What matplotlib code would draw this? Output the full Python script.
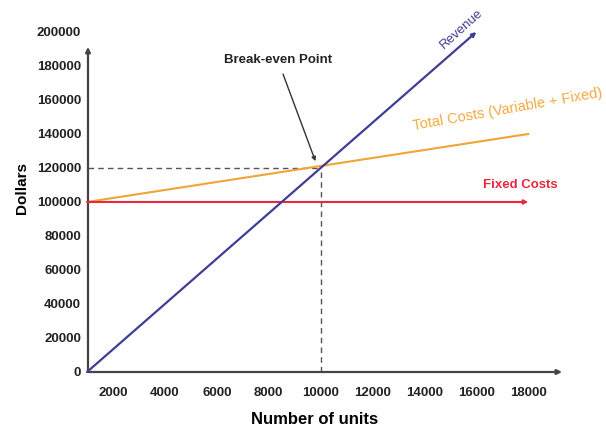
import matplotlib
import matplotlib.pyplot as plt

matplotlib.use('Agg')

plt.rcParams['font.family'] = ['Liberation Sans', 'DejaVu Sans']

# data
units_rev = [1000, 16000]
revenue = [0, 200000]
units_cost = [1000, 18000]
fixed_costs = [100000, 100000]
total_costs = [100000, 140000]
break_even_units = 10000
break_even_dollars = 120000
x_ticks = [2000, 4000, 6000, 8000, 10000, 12000, 14000, 16000, 18000]
y_ticks = list(range(0, 200001, 20000))

fig = plt.figure(figsize=(6.06, 4.30), dpi=100)
ax = fig.add_axes([0.1452, 0.1349, 0.7822, 0.7907])
ax.set_xlim(1037, 19300)
ax.set_ylim(0, 200000)

for s in ax.spines.values():
    s.set_visible(False)

# axis arrows
axis_col = '#444444'
ax.annotate('', xy=(0, 0.956), xytext=(0, 0), xycoords='axes fraction',
            arrowprops=dict(arrowstyle='-|>', color=axis_col, lw=1.6,
                            mutation_scale=7, shrinkA=0, shrinkB=0))
ax.annotate('', xy=(1.0, 0), xytext=(0, 0), xycoords='axes fraction',
            arrowprops=dict(arrowstyle='-|>', color=axis_col, lw=1.6,
                            mutation_scale=7, shrinkA=0, shrinkB=0))

# break-even guides
ax.plot([ax.get_xlim()[0], break_even_units], [break_even_dollars] * 2,
        color='#555555', lw=1, dashes=(4, 3))
ax.plot([break_even_units] * 2, [0, break_even_dollars],
        color='#555555', lw=1, dashes=(4, 3))

# lines
ax.plot(units_cost, total_costs, color='#f0a535', lw=1.5)
ax.annotate('', xy=(units_cost[1], fixed_costs[1]), xytext=(units_cost[0], fixed_costs[0]),
            arrowprops=dict(arrowstyle='-|>', color='#e8283c', lw=1.5,
                            mutation_scale=6, shrinkA=0, shrinkB=0))
ax.annotate('', xy=(units_rev[1], revenue[1]), xytext=(units_rev[0], revenue[0]),
            arrowprops=dict(arrowstyle='-|>', color='#3e3e95', lw=1.6,
                            mutation_scale=6, shrinkA=0, shrinkB=0))

# labels
ax.text(15450, 201700, 'Revenue', color='#3e3e95', fontsize=9.5,
        rotation=42, ha='center', va='center')
ax.text(13560, 142300, 'Total Costs (Variable + Fixed)', color='#f2aa40',
        fontsize=10.5, rotation=10, rotation_mode='anchor',
        ha='left', va='baseline')
ax.text(17680, 110000, 'Fixed Costs', color='#e8283c', fontsize=9.5,
        fontweight='bold', ha='center', va='center')
ax.annotate('Break-even Point', xy=(9800, 124000), xytext=(8350, 183500),
            fontsize=9.5, fontweight='bold', color='#222222',
            ha='center', va='center',
            arrowprops=dict(arrowstyle='-|>', color='#333333', lw=1,
                            mutation_scale=6, shrinkA=4, shrinkB=0))

ax.set_xticks(x_ticks)
ax.set_yticks(y_ticks)
ax.tick_params(length=0, labelsize=9.5, labelcolor='#222222')
for lbl in ax.get_xticklabels() + ax.get_yticklabels():
    lbl.set_fontweight('bold')
ax.tick_params(axis='x', pad=11)
ax.tick_params(axis='y', pad=5)

ax.set_xlabel('Number of units', fontsize=12, fontweight='bold')
ax.set_ylabel('Dollars', fontsize=11, fontweight='bold')
ax.xaxis.set_label_coords(0.477, -0.118)
ax.yaxis.set_label_coords(-0.124, 0.54)

fig.savefig('out.png', dpi=100)
plt.close(fig)
